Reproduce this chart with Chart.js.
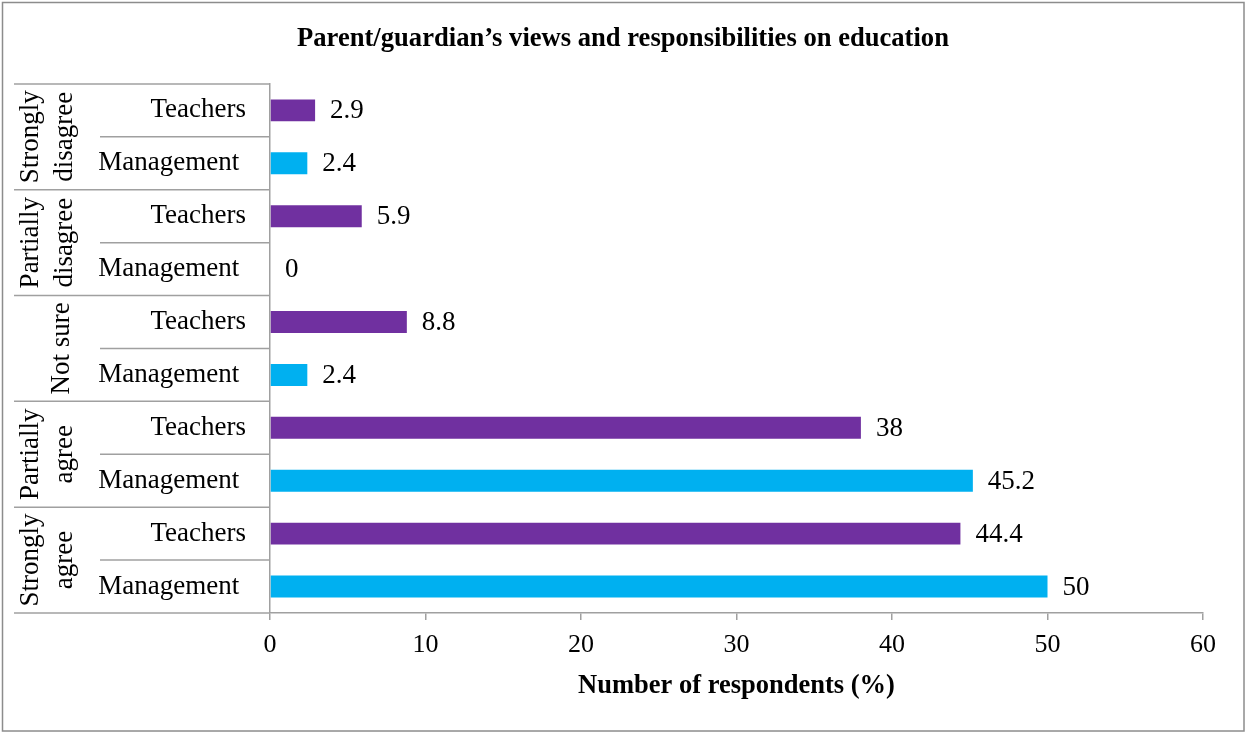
<!DOCTYPE html>
<html>
<head>
<meta charset="utf-8">
<title>Parent/guardian's views and responsibilities on education</title>
<script src="https://cdn.jsdelivr.net/npm/chart.js@4.4.1/dist/chart.umd.min.js"></script>
<style>
  html, body { margin: 0; padding: 0; background: #fff; }
</style>
</head>
<body>
<canvas id="myChart" width="1246" height="733"></canvas>
<script>
// answer groups, top to bottom, split into the lines they are written on
const groups = [['Strongly', 'disagree'], ['Partially', 'disagree'], ['Not sure'], ['Partially', 'agree'], ['Strongly', 'agree']];
const roles = ['Teachers', 'Management '];
const teachers = [2.9, 5.9, 8.8, 38, 44.4];
const management = [2.4, 0, 2.4, 45.2, 50];
const xTicks = [0, 10, 20, 30, 40, 50, 60];

const purple = '#7030A0';
const blue = '#00B0F0';
const lineGrey = '#a0a0a0';
const serif = "'Liberation Serif', 'Times New Roman', serif";

// one row per bar, teachers above management inside each group
let labels = [];
let values = [];
let colors = [];
groups.forEach((g, i) => {
  labels.push(roles[0]); values.push(teachers[i]); colors.push(purple);
  labels.push(roles[1]); values.push(management[i]); colors.push(blue);
});

// white page with the thin grey frame round it
const frame = {
  id: 'frame',
  beforeDraw(chart) {
    const ctx = chart.ctx;
    ctx.save();
    ctx.fillStyle = '#fff';
    ctx.fillRect(0, 0, chart.width, chart.height);
    ctx.strokeStyle = '#8c8c8c';
    ctx.lineWidth = 1.5;
    ctx.strokeRect(2.5, 2.5, chart.width - 4.5, chart.height - 4.5);
    ctx.restore();
  }
};

// outer category column: separators and rotated group names
const groupColumn = {
  id: 'groupColumn',
  afterDraw(chart) {
    const {ctx, chartArea} = chart;
    const rowH = (chartArea.bottom - chartArea.top) / labels.length;
    ctx.save();
    ctx.strokeStyle = lineGrey;
    ctx.lineWidth = 1.5;
    for (let i = 0; i <= labels.length; i++) {
      const yy = chartArea.top + i * rowH;
      const x0 = i % 2 === 0 ? 14 : 100;
      ctx.beginPath();
      ctx.moveTo(x0, yy);
      ctx.lineTo(chartArea.left, yy);
      ctx.stroke();
    }
    ctx.fillStyle = '#000';
    ctx.font = '27px ' + serif;
    ctx.textAlign = 'center';
    ctx.textBaseline = 'middle';
    groups.forEach((g, i) => {
      const cy = chartArea.top + (2 * i + 1) * rowH;
      ctx.save();
      if (g.length === 1) {
        ctx.translate(62, cy);
        ctx.rotate(-Math.PI / 2);
        ctx.fillText(g[0], 0, 0);
      } else {
        ctx.translate(48, cy);
        ctx.rotate(-Math.PI / 2);
        ctx.fillText(g[0], 0, -17);
        ctx.fillText(g[1], 0, 17);
      }
      ctx.restore();
    });
    ctx.restore();
  }
};

// value written just past the end of each bar
const barValues = {
  id: 'barValues',
  afterDatasetsDraw(chart) {
    const ctx = chart.ctx;
    const meta = chart.getDatasetMeta(0);
    ctx.save();
    ctx.fillStyle = '#000';
    ctx.font = '27px ' + serif;
    ctx.textAlign = 'left';
    ctx.textBaseline = 'middle';
    meta.data.forEach((bar, i) => {
      ctx.fillText(String(values[i]), bar.x + 15, bar.y + 1);
    });
    ctx.restore();
  }
};

const config = {
  type: 'bar',
  data: {
    labels: labels,
    datasets: [{
      data: values,
      backgroundColor: colors,
      borderWidth: 0,
      barPercentage: 0.415,
      categoryPercentage: 1
    }]
  },
  options: {
    indexAxis: 'y',
    responsive: false,
    animation: false,
    // equal side padding keeps the title centred on the page
    layout: { padding: { top: 0, left: 43, right: 43, bottom: 0 } },
    plugins: {
      legend: { display: false },
      tooltip: { enabled: false },
      title: {
        display: true,
        text: 'Parent/guardian\u2019s views and responsibilities on education',
        color: '#000',
        font: { family: serif, size: 26.6, weight: 'bold' },
        padding: { top: 23, bottom: 29 }
      }
    },
    scales: {
      x: {
        min: 0,
        max: 60,
        afterBuildTicks(scale) { scale.ticks = xTicks.map(v => ({ value: v })); },
        afterFit(scale) { scale.height = 120; },
        ticks: { color: '#000', font: { family: serif, size: 26 }, padding: 10 },
        grid: { display: true, drawOnChartArea: false, drawTicks: true, tickLength: 7, color: lineGrey, lineWidth: 1.5 },
        border: { display: true, color: lineGrey, width: 1.5 },
        title: {
          display: true,
          text: 'Number of respondents (%)',
          color: '#000',
          font: { family: serif, size: 26.5, weight: 'bold' },
          padding: { top: 0, bottom: 31 }
        }
      },
      y: {
        afterFit(scale) { scale.width = 227; },
        ticks: { color: '#000', font: { family: serif, size: 27 }, padding: 24 },
        grid: { display: false, drawTicks: false },
        border: { display: true, color: lineGrey, width: 1.5 }
      }
    }
  },
  plugins: [frame, groupColumn, barValues]
};

const myChart = new Chart(document.getElementById('myChart'), config);
</script>
</body>
</html>
